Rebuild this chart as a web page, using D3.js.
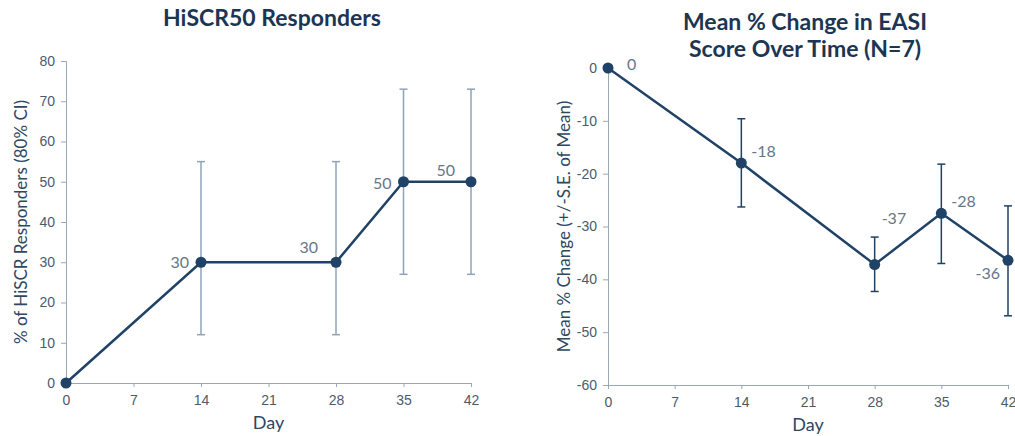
<!DOCTYPE html>
<html>
<head>
<meta charset="utf-8">
<script src="https://cdn.jsdelivr.net/npm/d3@7"></script>
<style>
  body { margin: 0; background: #fff; }
  svg { font-family: Lato, "Open Sans", sans-serif; }
  .tick text { fill: #4b5b6c; font-size: 14px; }
  .domain, .tick line { stroke: #9aa8b6; }
</style>
</head>
<body>
<svg id="chart" width="1015" height="436"></svg>
<script>
// shared x categories (days)
const days = [0, 14, 28, 35, 42];
const dayTicks = [0, 7, 14, 21, 28, 35, 42];

// left panel: HiSCR50 responders
const hiscr = [0, 30, 30, 50, 50];
const hiscrLow = [null, 12, 12, 27, 27];
const hiscrHigh = [null, 55, 55, 73, 73];
const hiscrTicks = [0, 10, 20, 30, 40, 50, 60, 70, 80];

// right panel: mean % change in EASI
const easi = [0, -18, -37.2, -27.5, -36.4];
const easiLow = [null, -26.3, -42.3, -37, -46.9];
const easiHigh = [null, -9.6, -32, -18.2, -26.1];
const easiLabels = ["0", "-18", "-37", "-28", "-36"];
const easiTicks = [0, -10, -20, -30, -40, -50, -60];

const navy = "#1f4266";
const svg = d3.select("#chart");

function panel(opt) {
  const x = d3.scaleLinear().domain([0, 42]).range(opt.xr);
  const y = d3.scaleLinear().domain(opt.yd).range(opt.yr);
  const g = svg.append("g");

  g.append("g").attr("transform", `translate(0,${opt.yr[0]})`)
    .call(d3.axisBottom(x).tickValues(dayTicks).tickSize(4).tickPadding(8).tickFormat(d => String(d)));
  g.append("g").attr("transform", `translate(${opt.xr[0]},0)`)
    .call(d3.axisLeft(y).tickValues(opt.ticks).tickSize(5).tickPadding(6).tickFormat(d => String(d)));

  // error bars
  days.forEach((d, i) => {
    if (opt.low[i] == null) return;
    const bx = x(d), y1 = y(opt.low[i]), y2 = y(opt.high[i]);
    g.append("line").attr("x1", bx).attr("x2", bx).attr("y1", y1).attr("y2", y2)
      .attr("stroke", opt.errColor).attr("stroke-width", 1.5);
    [y1, y2].forEach(yy => g.append("line").attr("x1", bx - 4).attr("x2", bx + 4)
      .attr("y1", yy).attr("y2", yy).attr("stroke", opt.errColor).attr("stroke-width", 1.5));
  });

  const line = d3.line().x((d, i) => x(days[i])).y(d => y(d));
  g.append("path").datum(opt.vals).attr("d", line)
    .attr("fill", "none").attr("stroke", navy).attr("stroke-width", 2.5);
  g.selectAll("circle.pt").data(opt.vals).join("circle")
    .attr("cx", (d, i) => x(days[i])).attr("cy", d => y(d)).attr("r", 5.5).attr("fill", navy);

  // data labels
  opt.vals.forEach((v, i) => {
    if (!opt.labels[i]) return;
    const o = opt.offsets[i];
    g.append("text").attr("x", x(days[i]) + o[0]).attr("y", y(v) + o[1])
      .attr("text-anchor", o[2]).attr("fill", "#66778a").attr("font-size", 16)
      .text(opt.labels[i]);
  });

  // titles
  opt.title.forEach((t, k) => {
    g.append("text").attr("x", opt.titleX).attr("y", opt.titleY + k * 27)
      .attr("text-anchor", "middle").attr("font-size", 23).attr("font-weight", 700)
      .attr("fill", "#1b3552").text(t);
  });
  g.append("text").attr("x", (opt.xr[0] + opt.xr[1]) / 2).attr("y", opt.yr[0] + 46)
    .attr("text-anchor", "middle").attr("font-size", 18).attr("fill", "#2e4862").text("Day");
  g.append("text")
    .attr("transform", `translate(${opt.ylabX},${(opt.yr[0] + opt.yr[1]) / 2}) rotate(-90)`)
    .attr("text-anchor", "middle").attr("font-size", 17).attr("fill", "#2e4862").text(opt.ylab);
}

panel({
  xr: [66, 471], yd: [0, 80], yr: [383, 61], ticks: hiscrTicks,
  vals: hiscr, low: hiscrLow, high: hiscrHigh, errColor: "#8fa3b8",
  labels: [null, "30", "30", "50", "50"],
  offsets: [null, [-12, 6, "end"], [-18, -9, "end"], [-12, 7, "end"], [-16, -6, "end"]],
  title: ["HiSCR50 Responders"], titleX: 272, titleY: 26,
  ylab: "% of HiSCR Responders (80% CI)", ylabX: 27
});

panel({
  xr: [608, 1008], yd: [-60, 0], yr: [385, 68], ticks: easiTicks,
  vals: easi, low: easiLow, high: easiHigh, errColor: navy,
  labels: easiLabels,
  offsets: [[19, 2, "start"], [10, -6, "start"], [7, -41, "start"], [10, -6, "start"], [-8, 19, "end"]],
  title: ["Mean % Change in EASI", "Score Over Time (N=7)"], titleX: 805, titleY: 30,
  ylab: "Mean % Change (+/-S.E. of Mean)", ylabX: 570
});
</script>
</body>
</html>
